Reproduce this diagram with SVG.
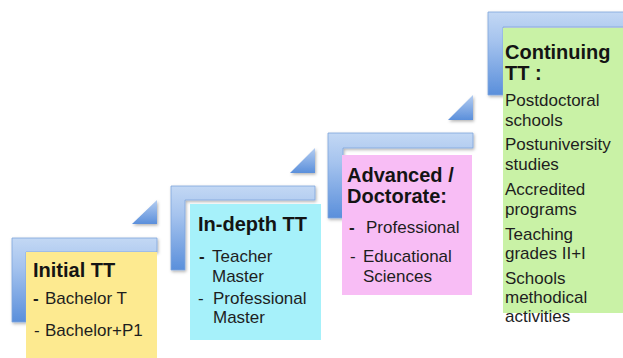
<svg xmlns="http://www.w3.org/2000/svg" width="623" height="358" viewBox="0 0 623 358">
<defs>
<linearGradient id="lg" x1="0" y1="0" x2="0" y2="1">
<stop offset="0" stop-color="#c3d8f4"/>
<stop offset="0.35" stop-color="#a5c3ee"/>
<stop offset="1" stop-color="#5a8fdb"/>
</linearGradient>
<linearGradient id="tg" x1="0" y1="0" x2="0" y2="1">
<stop offset="0" stop-color="#b4cdf1"/>
<stop offset="1" stop-color="#5b8fdb"/>
</linearGradient>
<filter id="sh" x="-10%" y="-10%" width="130%" height="130%">
<feDropShadow dx="1" dy="1.5" stdDeviation="1.5" flood-color="#000" flood-opacity="0.3"/>
</filter>
</defs>
<style>
.L{fill:url(#lg);stroke:#7ea4dc;stroke-width:0.8;filter:url(#sh)}
.tri{fill:url(#tg);filter:url(#sh)}
.t{font-family:"Liberation Sans",Arial,sans-serif;font-weight:bold;font-size:20px;fill:#141414}
.b{font-family:"Liberation Sans",Arial,sans-serif;font-size:17px;fill:#1e1e1e}
.bd{font-weight:bold}
</style>
<g id="connectors">
<polygon class="tri" points="132,224 157,224 157,200"/>
<polygon class="tri" points="290,173 315,173 315,148"/>
<polygon class="tri" points="448,120 473,120 473,95"/>
</g>
<g id="step1">
<path class="L" d="M12,238 H157 V252 H26 V322 H12 Z"/>
<rect x="26" y="252" width="131" height="106" fill="#fdea90"/>
<text class="t" x="33" y="277">Initial TT</text>
<text class="b" x="33" y="304"><tspan class="bd">-</tspan><tspan x="45">Bachelor T</tspan></text>
<text class="b" x="34" y="336">-<tspan x="45">Bachelor+P1</tspan></text>
</g>
<g id="step2">
<path class="L" d="M171,186 H315 V200 H185 V270 H171 Z"/>
<rect x="190" y="204" width="131" height="136" fill="#a6f1fa"/>
<text class="t" x="198" y="231">In-depth TT</text>
<text class="b" x="199" y="262"><tspan class="bd">-</tspan><tspan x="212">Teacher</tspan></text>
<text class="b" x="212" y="282">Master</text>
<text class="b" x="198" y="304">-<tspan x="213">Professional</tspan></text>
<text class="b" x="213" y="323">Master</text>
</g>
<g id="step3">
<path class="L" d="M328,133 H473 V148 H343 V218 H328 Z"/>
<rect x="342" y="155" width="130" height="140" fill="#f8bdf5"/>
<text class="t" x="347" y="182">Advanced /</text>
<text class="t" x="347" y="203">Doctorate:</text>
<text class="b" x="349" y="233"><tspan class="bd">-</tspan><tspan x="366">Professional</tspan></text>
<text class="b" x="350" y="262">-<tspan x="363">Educational</tspan></text>
<text class="b" x="363" y="282">Sciences</text>
</g>
<g id="step4">
<path class="L" d="M488,12 H630 V27 H503 V95 H488 Z"/>
<rect x="503" y="28" width="125" height="285" fill="#c9f2a6"/>
<text class="t" x="505" y="59">Continuing</text>
<text class="t" x="505" y="80">TT :</text>
<text class="b" x="505" y="106">Postdoctoral</text>
<text class="b" x="505" y="126">schools</text>
<text class="b" x="505" y="150">Postuniversity</text>
<text class="b" x="505" y="170">studies</text>
<text class="b" x="505" y="195">Accredited</text>
<text class="b" x="505" y="215">programs</text>
<text class="b" x="505" y="240">Teaching</text>
<text class="b" x="505" y="259">grades II+I</text>
<text class="b" x="505" y="284">Schools</text>
<text class="b" x="505" y="303">methodical</text>
<text class="b" x="505" y="322">activities</text>
</g>
</svg>
